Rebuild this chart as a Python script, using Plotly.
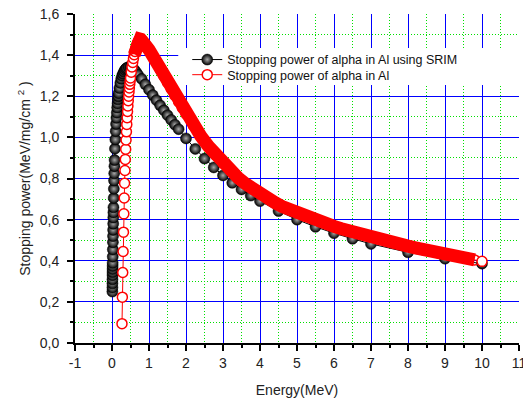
import plotly.graph_objects as go

# SRIM stopping power of alpha particles in Al (energy in MeV, S in MeV/(mg/cm^2))
srim_energy = [0.010, 0.011, 0.012, 0.013, 0.014, 0.015, 0.016, 0.017, 0.018, 0.020,
               0.0225, 0.025, 0.0275, 0.030, 0.0325, 0.035, 0.0375, 0.040, 0.045, 0.050,
               0.055, 0.060, 0.065, 0.070, 0.080, 0.090, 0.100, 0.110, 0.120, 0.130,
               0.140, 0.150, 0.160, 0.170, 0.180, 0.200, 0.225, 0.250, 0.275, 0.300,
               0.325, 0.350, 0.375, 0.400, 0.450, 0.500, 0.550, 0.600, 0.650, 0.700,
               0.800, 0.900, 1.000, 1.100, 1.200, 1.300, 1.400, 1.500, 1.600, 1.700,
               1.800, 2.000, 2.250, 2.500, 2.750, 3.000, 3.250, 3.500, 3.750, 4.000,
               4.500, 5.000, 5.500, 6.000, 6.500, 7.000, 8.000, 9.000, 10.000]
srim_stopping = [0.25, 0.27, 0.29, 0.31, 0.33, 0.345, 0.36, 0.375, 0.39, 0.42,
                 0.455, 0.49, 0.52, 0.55, 0.58, 0.61, 0.635, 0.66, 0.705, 0.75,
                 0.79, 0.825, 0.86, 0.89, 0.945, 0.99, 1.03, 1.065, 1.095, 1.12,
                 1.145, 1.165, 1.185, 1.20, 1.215, 1.24, 1.265, 1.285, 1.30, 1.31,
                 1.32, 1.328, 1.334, 1.338, 1.342, 1.342, 1.338, 1.33, 1.318, 1.305,
                 1.285, 1.258, 1.232, 1.206, 1.181, 1.156, 1.132, 1.108, 1.085, 1.062,
                 1.04, 0.995, 0.944, 0.897, 0.854, 0.815, 0.779, 0.747, 0.717, 0.69,
                 0.642, 0.600, 0.565, 0.534, 0.507, 0.482, 0.441, 0.41, 0.386]

# Calculated stopping power of alpha particles in Al
calc_energy = [0.27, 0.28, 0.29, 0.30, 0.31, 0.32, 0.33, 0.34, 0.35, 0.36,
               0.37, 0.38, 0.39, 0.40, 0.41, 0.42, 0.43, 0.44, 0.45, 0.46,
               0.47, 0.48, 0.49, 0.50, 0.52, 0.54, 0.56, 0.58, 0.60, 0.62,
               0.64, 0.66, 0.68, 0.70, 0.72, 0.74, 0.76, 0.78, 0.80, 0.85,
               0.90, 0.95, 1.0, 1.1, 1.2, 1.3, 1.4, 1.5, 1.6, 1.7,
               1.8, 1.9, 2.0, 2.2, 2.4, 2.6, 2.8, 3.0, 3.2, 3.4,
               3.6, 3.8, 4.0, 4.2, 4.4, 4.6, 4.8, 5.0, 5.2, 5.4,
               5.6, 5.8, 6.0, 6.2, 6.4, 6.6, 6.8, 7.0, 7.2, 7.4,
               7.6, 7.8, 8.0, 8.2, 8.4, 8.6, 8.8, 9.0, 9.2, 9.4,
               9.6, 9.8, 10.0]
calc_stopping = [0.094, 0.223, 0.343, 0.445, 0.539, 0.628, 0.705, 0.777, 0.839, 0.893,
                 0.942, 0.987, 1.027, 1.063, 1.096, 1.126, 1.153, 1.178, 1.20, 1.221,
                 1.24, 1.258, 1.274, 1.289, 1.317, 1.342, 1.364, 1.384, 1.402, 1.418,
                 1.432, 1.444, 1.455, 1.464, 1.471, 1.476, 1.478, 1.477, 1.473, 1.465,
                 1.453, 1.440, 1.426, 1.396, 1.364, 1.332, 1.299, 1.267, 1.235, 1.204,
                 1.173, 1.143, 1.114, 1.058, 1.006, 0.958, 0.914, 0.874, 0.838, 0.805,
                 0.776, 0.749, 0.725, 0.703, 0.683, 0.664, 0.648, 0.632, 0.618, 0.604,
                 0.591, 0.579, 0.567, 0.556, 0.545, 0.535, 0.525, 0.515, 0.506, 0.497,
                 0.488, 0.479, 0.471, 0.463, 0.455, 0.447, 0.439, 0.432, 0.425, 0.418,
                 0.411, 0.404, 0.397]

x_tick_values = [-1, 0, 1, 2, 3, 4, 5, 6, 7, 8, 9, 10, 11]
x_tick_labels = ["-1", "0", "1", "2", "3", "4", "5", "6", "7", "8", "9", "10", "11"]
y_tick_values = [0.0, 0.2, 0.4, 0.6, 0.8, 1.0, 1.2, 1.4, 1.6]
y_tick_labels = ["0,0", "0,2", "0,4", "0,6", "0,8", "1,0", "1,2", "1,4", "1,6"]

FONT = "Liberation Sans, Arial, sans-serif"
TEXT = "#222222"
X_RANGE = [-1, 11]
Y_RANGE = [0, 1.6]
MINOR_GRID = dict(showgrid=True, gridcolor="#00e000", griddash="1px,2px", gridwidth=1)

# index where the densely sampled part of the calculated curve begins
band_start = calc_energy.index(0.60)

fig = go.Figure()

fig.add_trace(go.Scatter(
    x=srim_energy, y=srim_stopping, mode="lines+markers",
    name="Stopping power of alpha in Al using SRIM", legend="legend",
    line=dict(color="black", width=1),
    marker=dict(size=11, color="black", symbol="circle",
                gradient=dict(type="radial", color="#a8a8a8"),
                line=dict(color="black", width=0.5)),
))

# solid band formed by the overlapping open circles of the dense part
fig.add_trace(go.Scatter(
    x=calc_energy[band_start:-1], y=calc_stopping[band_start:-1], mode="lines",
    line=dict(color="#ff0000", width=13), showlegend=False, hoverinfo="skip",
))

fill_colors = ["white" if (i < band_start or i == len(calc_energy) - 1) else "rgba(0,0,0,0)"
               for i in range(len(calc_energy))]
fig.add_trace(go.Scatter(
    x=calc_energy, y=calc_stopping, mode="lines+markers",
    name="Stopping power of alpha in Al", legend="legend2",
    line=dict(color="#ff0000", width=1),
    marker=dict(size=10, color=fill_colors, symbol="circle",
                line=dict(color="#ff0000", width=1.5)),
))

axis_common = dict(
    showline=True, linecolor="black", linewidth=2,
    tickcolor="black", tickwidth=1.5,
    zeroline=False, automargin=False,
    tickfont=dict(family=FONT, size=14, color=TEXT),
)

legend_common = dict(
    xanchor="left", yanchor="top", bgcolor="rgba(0,0,0,0)", borderwidth=0,
    font=dict(family=FONT, size=12.5, color="#111111"), itemwidth=30,
)

fig.update_layout(
    width=523, height=403,
    margin=dict(l=75, r=4, t=14, b=60),
    paper_bgcolor="white", plot_bgcolor="white",
    font=dict(family=FONT, color=TEXT),
    xaxis=dict(
        range=X_RANGE, tickmode="array", tickvals=x_tick_values, ticktext=x_tick_labels,
        ticks="outside", ticklen=6, ticklabeloverflow="allow",
        showgrid=True, gridcolor="#0000ff", gridwidth=1,
        minor=dict(tick0=0, dtick=0.5, ticks="outside", ticklen=3, tickcolor="black", **MINOR_GRID),
        title=dict(text="Energy(MeV)", font=dict(family=FONT, size=14, color=TEXT), standoff=15),
        **axis_common,
    ),
    yaxis=dict(
        range=Y_RANGE, tickmode="array", tickvals=y_tick_values, ticktext=y_tick_labels,
        ticks="outside", ticklen=6, ticklabelstandoff=5, ticklabeloverflow="allow",
        showgrid=True, gridcolor="#0000ff", gridwidth=1,
        minor=dict(tick0=0, dtick=0.1, ticks="outside", ticklen=3, tickcolor="black", **MINOR_GRID),
        title=dict(text="Stopping power(MeV/mg/cm <sup>2</sup> )",
                   font=dict(family=FONT, size=14, color=TEXT), standoff=6),
        **axis_common,
    ),
    xaxis2=dict(
        overlaying="x", side="top", anchor="y", range=X_RANGE,
        tickmode="array", tickvals=x_tick_values, showticklabels=False,
        ticks="inside", ticklen=5, showgrid=False,
        minor=dict(tick0=0, dtick=0.5, ticks="inside", ticklen=3, tickcolor="black", showgrid=False),
        **axis_common,
    ),
    yaxis2=dict(
        overlaying="y", side="right", anchor="x", range=Y_RANGE,
        tickmode="array", tickvals=y_tick_values, showticklabels=False,
        ticks="inside", ticklen=5, showgrid=False,
        minor=dict(tick0=0, dtick=0.1, ticks="inside", ticklen=3, tickcolor="black", showgrid=False),
        **axis_common,
    ),
    legend=dict(x=0.2528, y=0.906, **legend_common),
    legend2=dict(x=0.2528, y=0.860, **legend_common),
    shapes=[dict(type="rect", xref="paper", yref="paper",
                 x0=0.2325, x1=1.01, y0=0.7844, y1=0.8968,
                 fillcolor="white", line=dict(width=0), layer="above")],
)

fig.write_html("out.html")
